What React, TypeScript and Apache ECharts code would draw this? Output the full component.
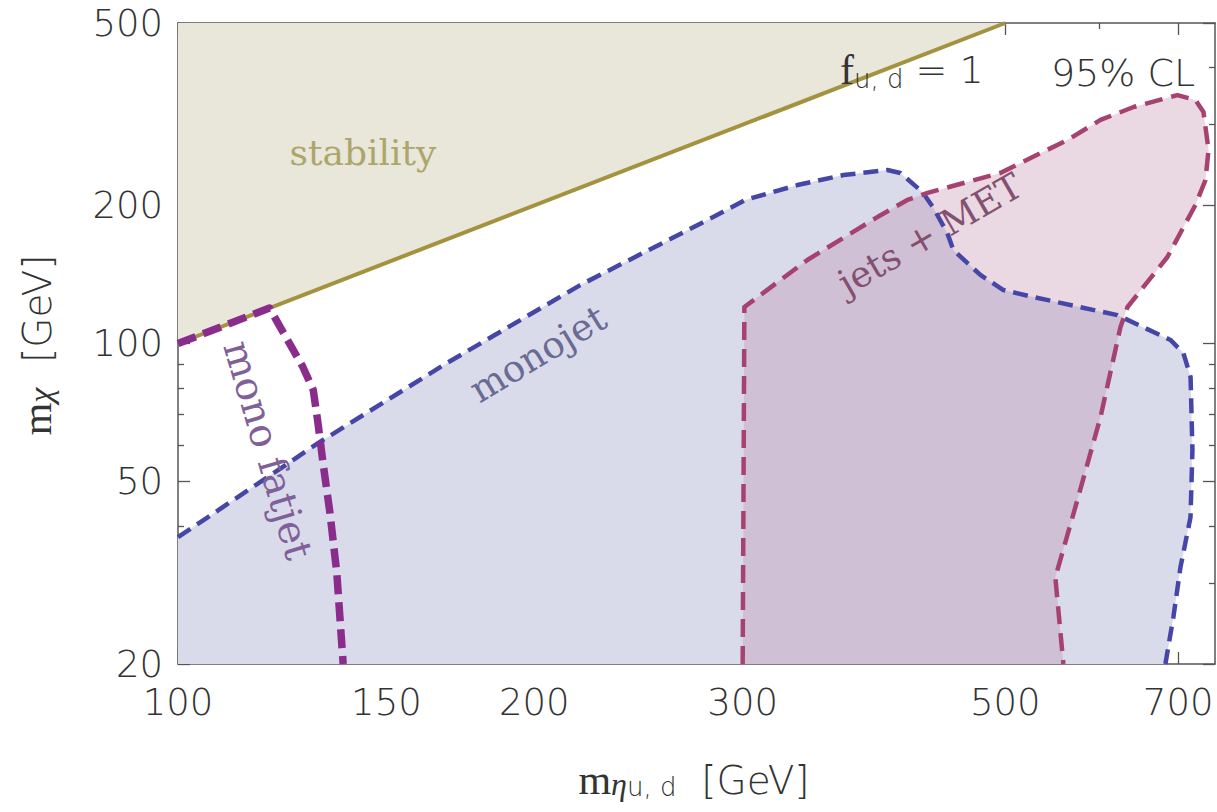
import React, { useEffect, useRef } from 'react';
import * as echarts from 'echarts';

// ---- axis ranges & ticks (GeV) ----
const xRange = [100, 752];
const yRange = [20, 500];
const xMajorTicks = [100, 150, 200, 300, 500, 700];
const xMinorTicks = [110, 120, 130, 140, 160, 170, 180, 190, 400, 600];
const yMajorTicks = [20, 50, 100, 200, 500];
const yMinorTicks = [30, 40, 60, 70, 80, 90, 300, 400];

// ---- regions: [m_eta, m_chi] in GeV ----
const stabilityLine = [[100, 100], [500, 500]];
const stabilityRegion = [[100, 100], [500, 500], [100, 500]];

const monojetBoundary = [
  [100, 37.8], [131.8, 61], [168.8, 90.7], [218.7, 134.1], [283.3, 188.7],
  [301.5, 205.6], [333.7, 221.6], [365, 233], [397.6, 239], [407.7, 235.4],
  [425.6, 214], [434.8, 197.5], [446.7, 174.2], [452, 159.9], [476.4, 141.1],
  [498.2, 130.8], [528.1, 126.3], [622, 115.3], [689.6, 101.8], [707.2, 95.3],
  [717.1, 84.5], [719.7, 58.6], [717, 41.8], [703.1, 32.5], [693.5, 25.3],
  [682.8, 20],
];
const monojetCorner = [[100, 20]];

const jetsMetBoundary = [
  [300, 20], [301, 120.1], [340.2, 152.1], [389.9, 188.7], [413.3, 205.6],
  [429.8, 213], [495.2, 235.4], [564.2, 277.8], [601.8, 307.3], [641.8, 327.9],
  [698.9, 348.2], [723.9, 339.6], [735.3, 319.7], [742.6, 264.3], [738.2, 227.3],
  [723.9, 200.5], [685.5, 154.4], [634.3, 120.1], [625.7, 108.6], [601.8, 69.1],
  [575.4, 45.6], [551.2, 30.9], [559.9, 20],
];

const monoFatjetBoundary = [
  [100, 100], [119.5, 119.5], [122, 108.6], [127.5, 88.9], [130.1, 79.2],
  [131.3, 67.1], [132.6, 54.9], [134.4, 42.7], [136.2, 31.6], [137.9, 20],
];

const lg = (v: number) => Math.log10(v);
const L = (p: number[]) => [lg(p[0]), lg(p[1])];

const AXIS_COLOR = '#555';
const tickFont = {
  fontFamily: 'DejaVu Sans',
  fontSize: 37,
  fontWeight: 200 as any,
  color: '#333',
};

function makeX(gridIndex: number, position: string, ticks: number[], len: number, withLabel: boolean, withLine: boolean) {
  return {
    type: 'value',
    gridIndex,
    position,
    min: lg(xRange[0]),
    max: lg(xRange[1]),
    axisLine: { show: withLine, onZero: false, lineStyle: { color: AXIS_COLOR, width: 1.5 } },
    axisTick: {
      show: true,
      inside: true,
      length: len,
      customValues: ticks.map(lg),
      lineStyle: { color: AXIS_COLOR, width: 1.3 },
    },
    axisLabel: withLabel
      ? {
          show: true,
          customValues: ticks.map(lg),
          formatter: (v: number) => String(Math.round(Math.pow(10, v))),
          margin: 20,
          ...tickFont,
        }
      : { show: false },
    splitLine: { show: false },
  };
}

function makeY(gridIndex: number, position: string, ticks: number[], len: number, withLabel: boolean, withLine: boolean) {
  return {
    type: 'value',
    gridIndex,
    position,
    min: lg(yRange[0]),
    max: lg(yRange[1]),
    axisLine: { show: withLine, onZero: false, lineStyle: { color: AXIS_COLOR, width: 1.5 } },
    axisTick: {
      show: true,
      inside: true,
      length: len,
      customValues: ticks.map(lg),
      lineStyle: { color: AXIS_COLOR, width: 1.3 },
    },
    axisLabel: withLabel
      ? {
          show: true,
          customValues: ticks.map(lg),
          formatter: (v: number) => String(Math.round(Math.pow(10, v))),
          margin: 15,
          padding: [8, 0, 0, 0],
          ...tickFont,
        }
      : { show: false },
    splitLine: { show: false },
  };
}

function polySeries(name: string, pts: number[][], fill: string) {
  return {
    type: 'custom',
    name,
    xAxisIndex: 0,
    yAxisIndex: 0,
    clip: true,
    silent: true,
    data: pts.map(L),
    renderItem: (params: any, api: any) => {
      if (params.dataIndex !== 0) return null;
      const points = pts.map((p) => api.coord(L(p)));
      return { type: 'polygon', shape: { points }, style: { fill } };
    },
  };
}

function lineSeries(name: string, pts: number[][], color: string, width: number, dash: any) {
  return {
    type: 'line',
    name,
    xAxisIndex: 0,
    yAxisIndex: 0,
    data: pts.map(L),
    symbol: 'none',
    silent: true,
    clip: true,
    lineStyle: { color, width, type: dash, cap: 'butt', join: 'round' },
  };
}

const serif = 'DejaVu Serif';
const thinSerif = 'Liberation Serif';
const sans = 'DejaVu Sans';

export default function App() {
  const ref = useRef<HTMLDivElement>(null);
  useEffect(() => {
    if (!ref.current) return;
    const chart = echarts.init(ref.current, undefined, { renderer: 'svg' });
    const gridRect = { left: 178, top: 23, width: 1037, height: 641, outerBoundsMode: 'none' };
    const Z = 100;
    const option: any = {
      animation: false,
      backgroundColor: '#ffffff',
      grid: [gridRect, gridRect],
      xAxis: [
        makeX(0, 'bottom', xMajorTicks, 12, true, true),
        makeX(0, 'top', xMajorTicks, 12, false, true),
        makeX(1, 'bottom', xMinorTicks, 6, false, false),
        makeX(1, 'top', xMinorTicks, 6, false, false),
      ],
      yAxis: [
        makeY(0, 'left', yMajorTicks, 12, true, true),
        makeY(0, 'right', yMajorTicks, 12, false, true),
        makeY(1, 'left', yMinorTicks, 6, false, false),
        makeY(1, 'right', yMinorTicks, 6, false, false),
      ],
      series: [
        polySeries('stability region', stabilityRegion, '#e9e6da'),
        polySeries('monojet region', [...monojetCorner, ...monojetBoundary], '#d9dbeb'),
        polySeries('jets+MET region', jetsMetBoundary, 'rgba(191,136,170,0.33)'),
        lineSeries('stability', stabilityLine, '#a3933f', 4, 'solid'),
        lineSeries('monojet', monojetBoundary, '#4646a6', 4.5, [15, 8]),
        lineSeries('jets + MET', jetsMetBoundary, '#a5426f', 4.5, [18, 9]),
        lineSeries('mono fatjet', monoFatjetBoundary, '#8a2c8c', 7.5, [19, 8]),
      ],
      graphic: [
        {
          type: 'text', x: 363, y: 152, z: Z, silent: true,
          style: { text: 'stability', fontFamily: serif, fontSize: 36, fill: '#aca66a', align: 'center', verticalAlign: 'middle' },
        },
        {
          type: 'text', x: 538, y: 354, z: Z, rotation: (31 * Math.PI) / 180, silent: true,
          style: { text: 'monojet', fontFamily: serif, fontSize: 37, fill: '#6a6a92', align: 'center', verticalAlign: 'middle' },
        },
        {
          type: 'text', x: 930, y: 234, z: Z, rotation: (30 * Math.PI) / 180, silent: true,
          style: { text: 'jets + MET', fontFamily: serif, fontSize: 36, fill: '#84506f', align: 'center', verticalAlign: 'middle' },
        },
        {
          type: 'text', x: 268, y: 450, z: Z, rotation: (-73.5 * Math.PI) / 180, silent: true,
          style: { text: 'mono fatjet', fontFamily: serif, fontSize: 39, fill: '#806098', align: 'center', verticalAlign: 'middle' },
        },
        {
          type: 'text', x: 840, y: 70, z: Z, silent: true,
          style: {
            text: '{f|f}{sub|u, d}{eq| = 1}',
            align: 'left', verticalAlign: 'middle',
            rich: {
              f: { fontFamily: thinSerif, fontSize: 42, fill: '#333', lineHeight: 44 },
              sub: { fontFamily: sans, fontSize: 26, fontWeight: 200, fill: '#333', lineHeight: 22, verticalAlign: 'bottom' },
              eq: { fontFamily: sans, fontSize: 38, fontWeight: 200, fill: '#333', lineHeight: 44 },
            },
          },
        },
        {
          type: 'text', x: 1123, y: 73, z: Z, silent: true,
          style: { text: '95% CL', fontFamily: sans, fontSize: 38, fontWeight: 200, fill: '#333', align: 'center', verticalAlign: 'middle' },
        },
        {
          type: 'text', x: 694, y: 780, z: Z, silent: true,
          style: {
            text: '{m|m}{eta|η}{sub|u, d}{u|  [GeV]}',
            align: 'center', verticalAlign: 'middle',
            rich: {
              m: { fontFamily: thinSerif, fontSize: 42, fill: '#333', lineHeight: 40 },
              eta: { fontFamily: thinSerif, fontSize: 32, fontStyle: 'italic', fill: '#333', lineHeight: 20, verticalAlign: 'bottom' },
              sub: { fontFamily: sans, fontSize: 26, fontWeight: 200, fill: '#333', lineHeight: 20, verticalAlign: 'bottom' },
              u: { fontFamily: sans, fontSize: 39, fontWeight: 200, fill: '#333', lineHeight: 40 },
            },
          },
        },
        {
          type: 'text', x: 37, y: 345, z: Z, rotation: Math.PI / 2, silent: true,
          style: {
            text: '{m|m}{sub|χ}{u|  [GeV]}',
            align: 'center', verticalAlign: 'middle',
            rich: {
              m: { fontFamily: thinSerif, fontSize: 42, fill: '#333', lineHeight: 40 },
              sub: { fontFamily: thinSerif, fontSize: 34, fontStyle: 'italic', fill: '#333', lineHeight: 20, verticalAlign: 'bottom' },
              u: { fontFamily: sans, fontSize: 39, fontWeight: 200, fill: '#333', lineHeight: 40 },
            },
          },
        },
      ],
    };
    chart.setOption(option);
    return () => chart.dispose();
  }, []);
  return (
    <div
      ref={ref}
      style={{ position: 'absolute', left: 0, top: 0, width: 1217, height: 812, background: '#fff' }}
    />
  );
}
